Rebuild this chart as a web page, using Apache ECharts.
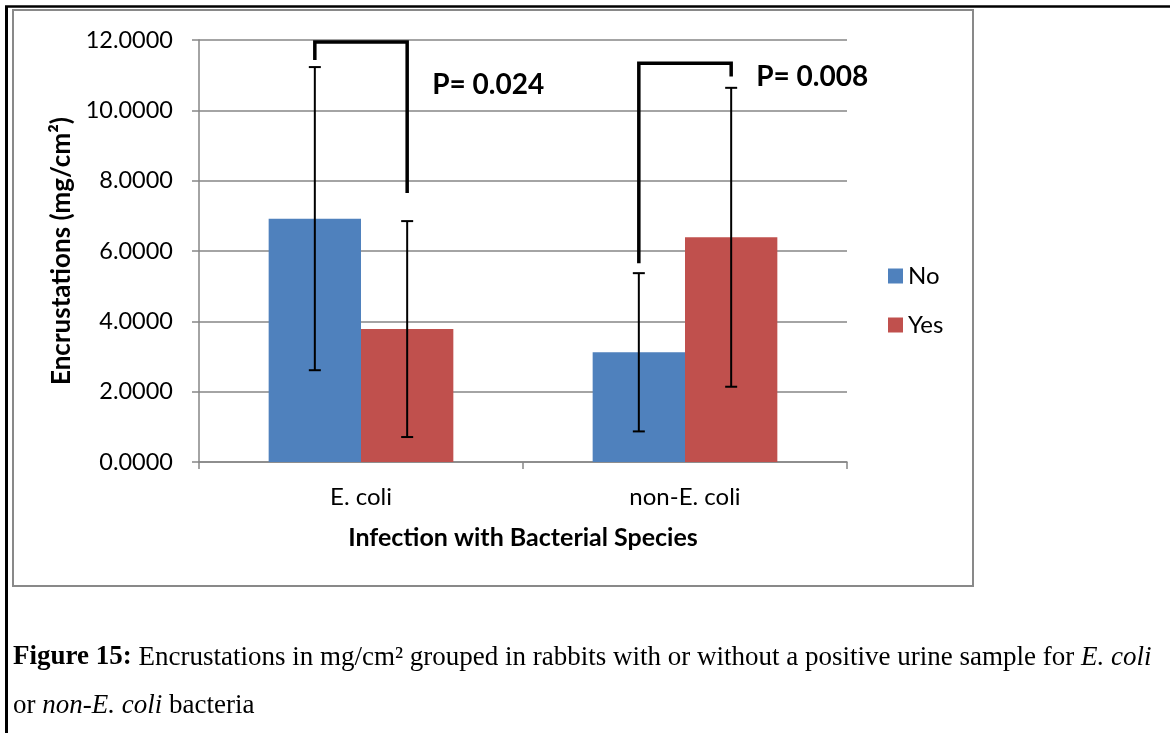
<!DOCTYPE html>
<html>
<head>
<meta charset="utf-8">
<script src="https://cdn.jsdelivr.net/npm/echarts@6/dist/echarts.min.js"></script>
<style>
  html, body { margin: 0; padding: 0; background: #fff; }
  #chart { width: 1170px; height: 733px; }
</style>
</head>
<body>
<div id="chart"></div>
<script>
// values
const categories = ["E. coli", "non-E. coli"];
const seriesNames = ["No", "Yes"];
const noValues = [6.92, 3.12];
const yesValues = [3.78, 6.39];
const noErrors = [4.31, 2.25];
const yesErrors = [3.07, 4.25];
// significance brackets: left end, top, right end, label height (data units)
const bracketLeftEnd = [11.43, 5.65];
const bracketTop = [11.94, 11.34];
const bracketRightEnd = [7.65, 10.96];
const pLabels = ["P= 0.024", "P= 0.008"];
const pLabelY = [10.72, 10.95];

const BAR_W = 0.285; // bar width as part of the category band
const FONT = "Lato";

let errorData = [];
categories.forEach(function (c, i) {
  errorData.push([i, -1, noValues[i], noErrors[i]]);
  errorData.push([i, 1, yesValues[i], yesErrors[i]]);
});
let bracketData = categories.map(function (c, i) {
  return [i, bracketLeftEnd[i], bracketTop[i], bracketRightEnd[i], pLabelY[i]];
});

function renderError(params, api) {
  let band = api.size([1, 0])[0];
  let idx = api.value(0);
  let mean = api.value(2);
  let err = api.value(3);
  let x = api.coord([idx, mean])[0] + api.value(1) * band * BAR_W / 2;
  let top = api.coord([idx, mean + err])[1];
  let bot = api.coord([idx, mean - err])[1];
  let style = { stroke: "#000", lineWidth: 2 };
  return {
    type: "group",
    children: [
      { type: "line", shape: { x1: x, y1: top, x2: x, y2: bot }, style: style },
      { type: "line", shape: { x1: x - 6, y1: top, x2: x + 6, y2: top }, style: style },
      { type: "line", shape: { x1: x - 6, y1: bot, x2: x + 6, y2: bot }, style: style }
    ]
  };
}

function renderBracket(params, api) {
  let band = api.size([1, 0])[0];
  let idx = api.value(0);
  let cx = api.coord([idx, 0])[0];
  let xl = cx - band * BAR_W / 2;
  let xr = cx + band * BAR_W / 2;
  let yl = api.coord([idx, api.value(1)])[1];
  let yt = api.coord([idx, api.value(2)])[1];
  let yr = api.coord([idx, api.value(3)])[1];
  let yp = api.coord([idx, api.value(4)])[1];
  return {
    type: "group",
    children: [
      {
        type: "polyline",
        shape: { points: [[xl, yl], [xl, yt], [xr, yt], [xr, yr]] },
        style: { stroke: "#000", lineWidth: 3.5, fill: null, lineJoin: "miter" }
      },
      {
        type: "text",
        x: xr + 25,
        y: yp,
        style: {
          text: pLabels[params.dataIndex],
          font: "bold 28px " + FONT,
          fill: "#000",
          verticalAlign: "middle"
        }
      }
    ]
  };
}

let chart = echarts.init(document.getElementById("chart"));
chart.setOption({
  animation: false,
  backgroundColor: "#fff",
  textStyle: { fontFamily: FONT },
  grid: { left: 199, right: 323, top: 40, bottom: 271 },
  legend: {
    orient: "vertical",
    left: 888,
    top: 264,
    padding: 0,
    itemWidth: 15,
    itemHeight: 15,
    itemGap: 25,
    icon: "rect",
    data: seriesNames,
    textStyle: { fontSize: 24, color: "#000", fontFamily: FONT }
  },
  xAxis: {
    type: "category",
    data: categories,
    name: "Infection with Bacterial Species",
    nameLocation: "middle",
    nameGap: 63,
    nameTextStyle: { fontSize: 25, fontWeight: "bold", color: "#000" },
    axisLine: { lineStyle: { color: "#868686", width: 1.5 } },
    axisTick: { show: true, length: 7, lineStyle: { color: "#868686", width: 1.5 } },
    axisLabel: { fontSize: 24, color: "#000", margin: 23 }
  },
  yAxis: {
    type: "value",
    min: 0,
    max: 12,
    interval: 2,
    name: "Encrustations (mg/cm²)",
    nameLocation: "middle",
    nameGap: 121,
    nameRotate: 90,
    nameTextStyle: { fontSize: 26, fontWeight: "bold", color: "#000" },
    axisLine: { show: true, lineStyle: { color: "#868686", width: 1.5 } },
    axisTick: { show: true, length: 7, lineStyle: { color: "#868686", width: 1.5 } },
    axisLabel: {
      fontSize: 23.5,
      color: "#000",
      margin: 26,
      formatter: function (v) { return v.toFixed(4); }
    },
    splitLine: { lineStyle: { color: "#868686", width: 1.5 } }
  },
  series: [
    {
      name: seriesNames[0],
      type: "bar",
      data: noValues,
      barWidth: (BAR_W * 100) + "%",
      barGap: "0%",
      itemStyle: { color: "#4F81BD" }
    },
    {
      name: seriesNames[1],
      type: "bar",
      data: yesValues,
      barWidth: (BAR_W * 100) + "%",
      barGap: "0%",
      itemStyle: { color: "#C0504D" }
    },
    {
      type: "custom",
      data: errorData,
      renderItem: renderError,
      encode: { x: 0, y: 2 },
      z: 5,
      silent: true
    },
    {
      type: "custom",
      data: bracketData,
      renderItem: renderBracket,
      encode: { x: 0, y: 2 },
      z: 6,
      silent: true
    }
  ],
  graphic: [
    // outer frame (table cell)
    { type: "line", shape: { x1: 6.5, y1: 6.5, x2: 6.5, y2: 740 }, style: { stroke: "#000", lineWidth: 3 } },
    { type: "line", shape: { x1: 5, y1: 6.5, x2: 1175, y2: 6.5 }, style: { stroke: "#000", lineWidth: 2.5 } },
    // chart area border
    { type: "rect", shape: { x: 13, y: 10, width: 960, height: 576 }, style: { fill: null, stroke: "#898989", lineWidth: 2 } },
    {
      type: "text",
      left: 13,
      top: 644,
      style: {
        text: "{b|Figure 15:} Encrustations in mg/cm² grouped in rabbits with or without a positive urine sample for {i|E. coli}",
        font: "27px 'Liberation Serif'",
        fill: "#000",
        rich: {
          b: { font: "bold 27px 'Liberation Serif'", fill: "#000" },
          i: { font: "italic 27px 'Liberation Serif'", fill: "#000" }
        }
      }
    },
    {
      type: "text",
      left: 13,
      top: 692,
      style: {
        text: "or {i|non-E. coli} bacteria",
        font: "27px 'Liberation Serif'",
        fill: "#000",
        rich: {
          i: { font: "italic 27px 'Liberation Serif'", fill: "#000" }
        }
      }
    }
  ]
});
</script>
</body>
</html>
